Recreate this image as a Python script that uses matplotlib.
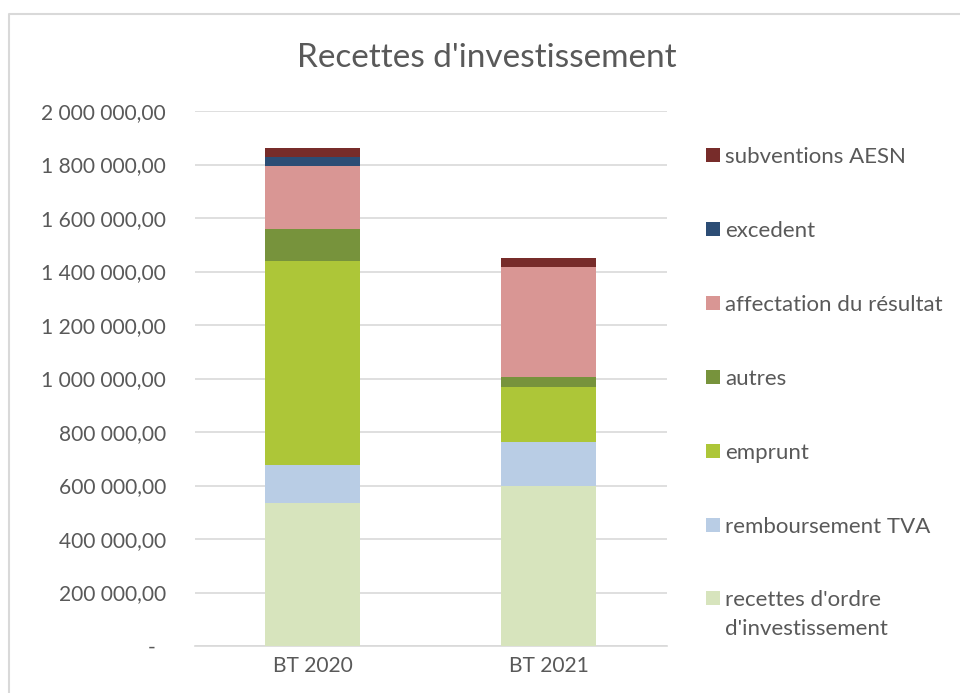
import matplotlib
matplotlib.use("Agg")
import matplotlib.pyplot as plt
from matplotlib.patches import Rectangle
from matplotlib.lines import Line2D
from matplotlib.ticker import FuncFormatter, MultipleLocator

categories = ["BT 2020", "BT 2021"]
series_names = ["recettes d'ordre\nd'investissement", "remboursement TVA", "emprunt",
                "autres", "affectation du résultat", "excedent", "subventions AESN"]
recettes_ordre = [534000, 599000]
remboursement_tva = [141000, 165000]
emprunt = [763000, 206000]
autres = [120000, 35000]
affectation = [235000, 413000]
excedent = [36000, 0]
subventions_aesn = [32000, 34000]
series_values = [recettes_ordre, remboursement_tva, emprunt, autres, affectation, excedent, subventions_aesn]
colors = ["#D7E4BD", "#B9CDE5", "#ADC638", "#77933C", "#D99694", "#2C4D75", "#772C2A"]
title = "Recettes d'investissement"

W, H = 960, 693
FONT = "Lato"
TXT = "#595959"
GRID = "#D9D9D9"

plt.rcParams['font.family'] = [FONT, 'DejaVu Sans']
fig = plt.figure(figsize=(W / 100, H / 100), dpi=100)

def fx(px):
    return px / W

def fy(py):
    return 1 - py / H

ax = fig.add_axes([fx(194.5), fy(646), fx(666.7) - fx(194.5), (646 - 111) / H])
x = list(range(len(categories)))
bottom = [0] * len(categories)
for name, vals, c in zip(series_names, series_values, colors):
    ax.bar(x, vals, width=0.4, bottom=bottom, color=c, edgecolor='none', zorder=3)
    bottom = [b + v for b, v in zip(bottom, vals)]

ax.set_xlim(-0.5, 1.5)
ax.set_ylim(0, 2000000)
ax.yaxis.set_major_locator(MultipleLocator(200000))

def fmt(v, pos):
    if abs(v) < 1e-6:
        return "-  "
    return f"{v:,.2f}".replace(",", " ").replace(".", ",")

ax.yaxis.set_major_formatter(FuncFormatter(fmt))
ax.set_xticks(x)
ax.set_xticklabels(categories)
ax.grid(axis='y', color=GRID, linewidth=1.2, zorder=0)
for s in ['left', 'right', 'top']:
    ax.spines[s].set_visible(False)
ax.spines['bottom'].set_color(GRID)
ax.spines['bottom'].set_linewidth(1.2)
ax.tick_params(axis='y', length=0, pad=20.5, colors=TXT, labelsize=13.5)
ax.tick_params(axis='x', length=0, pad=7, colors=TXT, labelsize=13.5)

# title
t = fig.text(fx(487), fy(66.7), title, ha='center', va='baseline', color=TXT, fontsize=24)

# legend (manual, top entry first)
leg_y = [155, 229, 303.3, 377, 451, 525, 598.3]
leg_texts = []
for name, c, yc in zip(series_names[::-1], colors[::-1], leg_y):
    fig.add_artist(Rectangle((fx(706), fy(yc + 7)), fx(14), 14 / H, transform=fig.transFigure,
                             facecolor=c, edgecolor='none'))
    for i, line in enumerate(name.split("\n")):
        leg_texts.append(fig.text(fx(725), fy(yc + i * 28.4), line, ha='left', va='center_baseline',
                                  color=TXT, fontsize=13.5))

# outer chart border
fig.add_artist(Line2D([fx(9), fx(9), 1.0], [0.0, fy(13.5), fy(13.5)], transform=fig.transFigure,
                      color=GRID, linewidth=1.5))

# fit font sizes to reference widths
fig.canvas.draw()
r = fig.canvas.get_renderer()
w = t.get_window_extent(r).width
t.set_fontsize(t.get_fontsize() * 380 / w)
aff = [tt for tt in leg_texts if tt.get_text().startswith("affectation")][0]
w = aff.get_window_extent(r).width
ls = aff.get_fontsize() * 217 / w
for tt in leg_texts:
    tt.set_fontsize(ls)
lab = [tl for tl in ax.get_yticklabels() if tl.get_text().startswith("2 000")]
if lab:
    w = lab[0].get_window_extent(r).width
    ts = 13.5 * 125 / w
    ax.tick_params(axis='both', labelsize=ts)

fig.savefig("out.png", dpi=100)
